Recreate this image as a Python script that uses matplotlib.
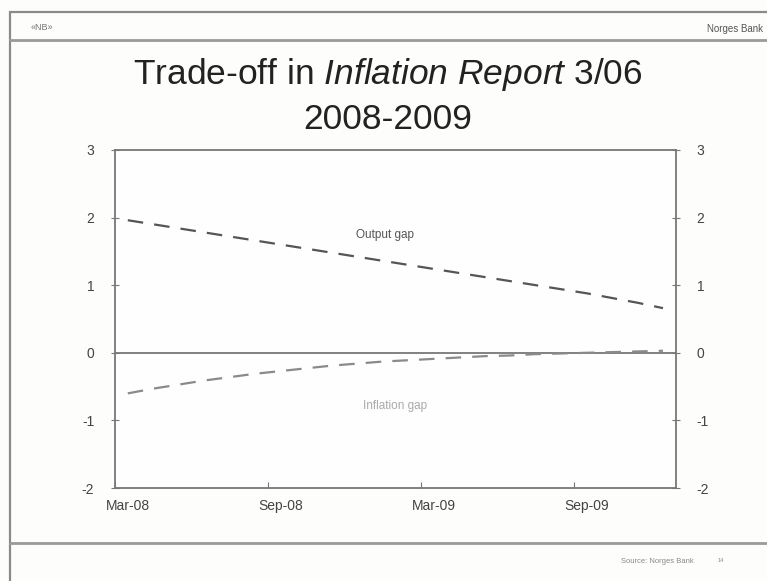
import numpy as np
import matplotlib
matplotlib.use("Agg")
import matplotlib.pyplot as plt
from matplotlib.patches import Rectangle
from matplotlib.lines import Line2D

plt.rcParams['font.family'] = ['Liberation Sans', 'DejaVu Sans']
plt.rcParams['mathtext.fontset'] = 'custom'
plt.rcParams['mathtext.rm'] = 'Liberation Sans'
plt.rcParams['mathtext.it'] = 'Liberation Sans:italic'
plt.rcParams['axes.unicode_minus'] = False

# monthly projections, Mar-08 .. Dec-09
months = ['Mar-08', 'Apr-08', 'May-08', 'Jun-08', 'Jul-08', 'Aug-08',
          'Sep-08', 'Oct-08', 'Nov-08', 'Dec-08', 'Jan-09', 'Feb-09',
          'Mar-09', 'Apr-09', 'May-09', 'Jun-09', 'Jul-09', 'Aug-09',
          'Sep-09', 'Oct-09', 'Nov-09', 'Dec-09']
output_gap = [1.96, 1.90, 1.84, 1.78, 1.72, 1.66, 1.60, 1.54, 1.48, 1.42, 1.36,
              1.30, 1.24, 1.18, 1.12, 1.06, 1.00, 0.94, 0.88, 0.81, 0.74, 0.66]
inflation_gap = [-0.60, -0.53, -0.47, -0.41, -0.36, -0.31, -0.27, -0.23, -0.19,
                 -0.16, -0.13, -0.11, -0.09, -0.07, -0.05, -0.04, -0.02, -0.01,
                 0.00, 0.01, 0.02, 0.03]
tick_labels = ['Mar-08', 'Sep-08', 'Mar-09', 'Sep-09']

x = np.arange(len(months))

fig = plt.figure(figsize=(7.67, 5.81), dpi=100, facecolor='#fdfdfc')

# slide frame and header / footer rules
fig.add_artist(Rectangle((0.013, -0.01), 1.1, 0.99, transform=fig.transFigure,
                         fill=False, edgecolor='#8a8a8a', linewidth=1.6))
fig.add_artist(Line2D([0.013, 1.0], [0.932, 0.932], transform=fig.transFigure,
                      color='#9a9a9a', linewidth=2.0))
fig.add_artist(Line2D([0.013, 1.0], [0.066, 0.066], transform=fig.transFigure,
                      color='#9a9a9a', linewidth=2.0))
fig.text(0.04, 0.953, '«NB»', fontsize=6.5, color='#777777', va='center')
fig.text(0.995, 0.950, 'Norges Bank', fontsize=7, color='#555555',
         va='center', ha='right')
fig.text(0.905, 0.033, 'Source: Norges Bank', fontsize=5.5, color='#888888',
         va='center', ha='right')
fig.text(0.935, 0.036, '14', fontsize=4, color='#888888', va='center')

fig.text(0.505, 0.872, r'Trade-off in $Inflation\ Report$ 3/06', fontsize=25.5,
         ha='center', va='center', color='#222222')
fig.text(0.505, 0.795, '2008-2009', fontsize=25.5, ha='center', va='center',
         color='#222222')

ax = fig.add_axes([0.150, 0.160, 0.731, 0.582])
ax.set_facecolor('#fefefe')

ax.axhline(0, color='#777777', linewidth=1.3, zorder=1)
ax.plot(x, output_gap, color='#555555', linewidth=1.6, dashes=(7, 5), zorder=3)
ax.plot(x, inflation_gap, color='#8a8a8a', linewidth=1.6, dashes=(7, 5), zorder=3)

ax.text(10.1, 1.74, 'Output gap', fontsize=8.5, color='#555555',
        ha='center', va='center')
ax.text(10.5, -0.79, 'Inflation gap', fontsize=8.5, color='#aaaaaa',
        ha='center', va='center')

ax.set_xlim(-0.5, len(months) - 0.5)
ax.set_ylim(-2, 3)
ax.set_yticks(range(-2, 4))
ax.set_xticks([-0.5, 5.5, 11.5, 17.5])
ax.set_xticklabels([])
ax.set_xticks([0, 6, 12, 18], minor=True)
ax.set_xticklabels(tick_labels, minor=True)
ax.tick_params(axis='x', which='minor', length=0, pad=8, labelsize=10,
               colors='#444444')
ax.tick_params(axis='x', which='major', direction='in', length=4,
               color='#777777')
ax.tick_params(axis='y', direction='inout', length=6, labelsize=10,
               color='#777777', labelcolor='#444444', pad=12,
               right=True, labelright=True)

for s in ax.spines.values():
    s.set_color('#777777')
    s.set_linewidth(1.3)

fig.savefig('out.png', dpi=100, facecolor=fig.get_facecolor())
